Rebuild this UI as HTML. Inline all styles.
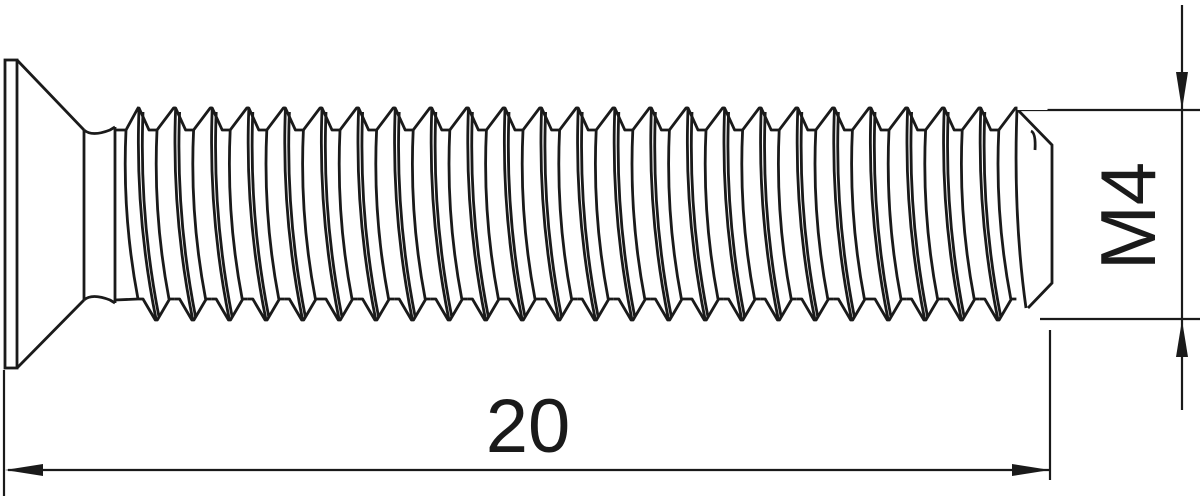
<!DOCTYPE html>
<html><head><meta charset="utf-8"><style>
html,body{margin:0;padding:0;background:#fff;width:1201px;height:500px;overflow:hidden}
svg{display:block}
</style></head><body>
<svg width="1201" height="500" viewBox="0 0 1201 500" xmlns="http://www.w3.org/2000/svg" xmlns:xlink="http://www.w3.org/1999/xlink">
<defs>
 <g id="p" fill="none" stroke="#1a1a1a" stroke-width="2.8" stroke-linejoin="round">
  <polyline points="-1,108 1,108 11,130 19,130 35.6,108 37.6,108"/>
  <polyline points="0,299 5,299 17.3,320 19.3,320 31.6,299 36.6,299"/>
  <path d="M1,109 Q-3,215 18,319"/>
  <path d="M5,112 Q1,215 21,317"/>
  <path d="M19,130 Q15,215 31,299"/>
 </g>
</defs>
<g fill="none" stroke="#1a1a1a" stroke-width="2.8">
 <rect x="5" y="60" width="12" height="308"/>
 <line x1="17" y1="60" x2="84" y2="130"/>
 <line x1="17" y1="368" x2="84" y2="300"/>
 <line x1="84" y1="130" x2="84" y2="300"/>
 <path d="M84,130 Q92,137 110,130 L115,127"/>
 <path d="M84,300 Q92,293 110,300 L115,303"/>
 <line x1="115" y1="127" x2="115" y2="303"/>
 <polyline points="115,130 126,130 138,108"/>
 <polyline points="115,300 138,299"/>
 <path d="M126,130 Q122,215 138,299"/>
 <polyline points="1016,108 1052,145 1052,283 1028,308"/>
 <path d="M1017,109 Q1013,215 1026,308"/>
 <path d="M1031,131 Q1036,133 1035,150"/>
 <line x1="1020" y1="110" x2="1200" y2="110" stroke-width="2.2"/>
 <line x1="1040" y1="319" x2="1200" y2="319" stroke-width="2.2"/>
 <line x1="1182" y1="5" x2="1182" y2="410" stroke-width="2.2"/>
 <line x1="1050" y1="330" x2="1050" y2="480" stroke-width="2.2"/>
 <line x1="4" y1="370" x2="4" y2="496" stroke-width="2.2"/>
 <line x1="8" y1="470" x2="1050" y2="470" stroke-width="2.2"/>
</g>
<use xlink:href="#p" href="#p" x="138"/>
<use xlink:href="#p" href="#p" x="174.6"/>
<use xlink:href="#p" href="#p" x="211.2"/>
<use xlink:href="#p" href="#p" x="247.8"/>
<use xlink:href="#p" href="#p" x="284.4"/>
<use xlink:href="#p" href="#p" x="321"/>
<use xlink:href="#p" href="#p" x="357.6"/>
<use xlink:href="#p" href="#p" x="394.2"/>
<use xlink:href="#p" href="#p" x="430.8"/>
<use xlink:href="#p" href="#p" x="467.4"/>
<use xlink:href="#p" href="#p" x="504"/>
<use xlink:href="#p" href="#p" x="540.6"/>
<use xlink:href="#p" href="#p" x="577.2"/>
<use xlink:href="#p" href="#p" x="613.8"/>
<use xlink:href="#p" href="#p" x="650.4"/>
<use xlink:href="#p" href="#p" x="687"/>
<use xlink:href="#p" href="#p" x="723.6"/>
<use xlink:href="#p" href="#p" x="760.2"/>
<use xlink:href="#p" href="#p" x="796.8"/>
<use xlink:href="#p" href="#p" x="833.4"/>
<use xlink:href="#p" href="#p" x="870"/>
<use xlink:href="#p" href="#p" x="906.6"/>
<use xlink:href="#p" href="#p" x="943.2"/>
<use xlink:href="#p" href="#p" x="979.8"/>
<rect x="1017.5" y="100" width="30" height="10" fill="#fff"/>
<g fill="#1a1a1a">
 <polygon points="1182,110 1176,72 1188,72"/>
 <polygon points="1182,320 1176,357 1188,357"/>
 <polygon points="5,470 43,464 43,476"/>
 <polygon points="1050,470 1012,464 1012,476"/>
</g>
<text x="528" y="452" font-family="Liberation Sans, sans-serif" font-size="76" text-anchor="middle" fill="#1a1a1a">20</text>
<text transform="translate(1155,216) rotate(-90)" font-family="Liberation Sans, sans-serif" font-size="78" text-anchor="middle" fill="#1a1a1a">M4</text>
</svg>
</body></html>
